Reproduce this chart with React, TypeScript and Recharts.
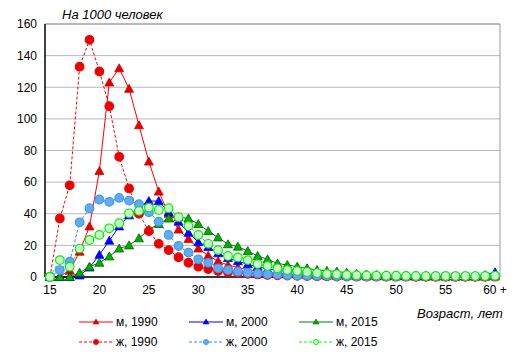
import React from 'react';
import { LineChart, Line, XAxis, YAxis, CartesianGrid, ReferenceLine } from 'recharts';

const ages = [15, 16, 17, 18, 19, 20, 21, 22, 23, 24, 25, 26, 27, 28, 29, 30, 31, 32, 33, 34, 35, 36, 37, 38, 39, 40, 41, 42, 43, 44, 45, 46, 47, 48, 49, 50, 51, 52, 53, 54, 55, 56, 57, 58, 59, 60];

const m1990 = [0, 0.5, 4, 16, 32, 67, 123, 132, 119, 96, 73, 54, 40, 30, 24, 18, 13.5, 10, 7.5, 6, 4.5, 3.5, 2.8, 2.2, 1.8, 1.5, 1.2, 1, 0.8, 0.7, 0.6, 0.5, 0.4, 0.4, 0.3, 0.3, 0.3, 0.2, 0.2, 0.2, 0.2, 0.2, 0.2, 0.2, 0.2, 0.3];
const m2000 = [0, 0, 0, 1, 6, 14, 23, 32, 39, 44, 48, 48, 41, 35, 28, 22, 19, 15, 12, 10, 8, 6.5, 5, 4.2, 3.5, 3, 2.5, 2, 1.8, 1.5, 1.2, 1, 1, 0.8, 0.8, 0.7, 0.7, 0.6, 0.6, 0.6, 0.5, 0.5, 0.5, 0.5, 1.2, 3];
const m2015 = [0, 0, 0, 2.7, 6.5, 9, 13, 18, 20, 24.5, 30, 33.5, 37, 38, 37, 33.5, 29, 25, 20.7, 19.2, 16.4, 13.3, 11.2, 8.6, 7.6, 6.5, 5.5, 4.4, 4, 3.5, 2.7, 2, 1.6, 1.3, 1.1, 1, 0.9, 0.8, 0.7, 0.6, 0.6, 0.5, 0.5, 0.5, 0.5, 0.8];
const f1990 = [0, 37, 58, 133, 150, 130, 108, 76, 56, 40, 29, 21, 17, 12.5, 9, 6.5, 5, 3.8, 3, 2.5, 2, 1.6, 1.3, 1.1, 0.9, 0.8, 0.6, 0.5, 0.4, 0.3, 0.3, 0.2, 0.2, 0.2, 0.2, 0.2, 0.2, 0.1, 0.1, 0.1, 0.1, 0.1, 0.1, 0.1, 0.1, 0.2];
const f2000 = [0, 4.4, 9.7, 34.6, 43.5, 49, 47.5, 50, 48.3, 46, 41, 35, 26.6, 19.6, 15.4, 11.2, 9, 5.5, 4.4, 3.4, 2.7, 2.2, 1.8, 1.5, 1.2, 1, 0.9, 0.8, 0.7, 0.6, 0.5, 0.5, 0.4, 0.4, 0.4, 0.4, 0.4, 0.4, 0.4, 0.4, 0.4, 0.4, 0.4, 0.4, 0.5, 0.6];
const f2015 = [0, 10.7, 6.5, 18, 23.4, 26.6, 30.8, 34, 40.3, 41.8, 43.9, 42.4, 43.5, 37.8, 32.3, 26.6, 21, 17, 13.3, 12.4, 10.7, 8.2, 7, 5.5, 4.4, 3.8, 3.2, 2.5, 1.9, 1.7, 1.3, 1.1, 1, 0.9, 0.8, 0.8, 0.7, 0.7, 0.6, 0.6, 0.6, 0.6, 0.6, 0.6, 0.6, 0.8];

const xTicks = [15, 20, 25, 30, 35, 40, 45, 50, 55, 60];
const yTicks = [0, 20, 40, 60, 80, 100, 120, 140, 160];

const data = ages.map((age, i) => ({
  age,
  m1990: m1990[i],
  m2000: m2000[i],
  m2015: m2015[i],
  f1990: f1990[i],
  f2000: f2000[i],
  f2015: f2015[i],
}));

const FONT = '"Liberation Sans", Arial, sans-serif';

const makeTriangle = (fill: string, stroke: string) => (props: any) => {
  const { cx, cy, index } = props;
  if (cx == null || cy == null) return <g key={index} />;
  return (
    <polygon
      key={index}
      points={`${cx},${cy - 4.5} ${cx + 4.5},${cy + 3.5} ${cx - 4.5},${cy + 3.5}`}
      fill={fill}
      stroke={stroke}
      strokeWidth={0.8}
    />
  );
};

const series = [
  { key: 'm1990', name: 'м, 1990', color: '#ff0000', fill: '#e00000', tri: true },
  { key: 'm2000', name: 'м, 2000', color: '#0000ff', fill: '#0000ff', tri: true },
  { key: 'm2015', name: 'м, 2015', color: '#008000', fill: '#00b000', tri: true, stroke: '#006000' },
  { key: 'f1990', name: 'ж, 1990', color: '#ff0000', fill: '#e60000', tri: false, stroke: '#ff0000' },
  { key: 'f2000', name: 'ж, 2000', color: '#3388ff', fill: '#66aaee', tri: false, stroke: '#3399ff' },
  { key: 'f2015', name: 'ж, 2015', color: '#00ff00', fill: '#ccffcc', tri: false, stroke: '#00ee00' },
];

const LegendBox = () => {
  const cols = [79, 189, 299];
  const rows = [322, 342];
  return (
    <svg width={516} height={360} style={{ position: 'absolute', left: 0, top: 0, pointerEvents: 'none' }}>
      {series.map((s, i) => {
        const x = cols[i % 3];
        const y = rows[Math.floor(i / 3)];
        const mid = x + 17;
        return (
          <g key={s.key}>
            <line x1={x} x2={x + 34} y1={y} y2={y} stroke={s.color} strokeWidth={1} strokeDasharray={s.tri ? undefined : '3 2'} />
            {s.tri ? (
              <polygon points={`${mid},${y - 3} ${mid + 3},${y + 2} ${mid - 3},${y + 2}`} fill={s.fill} stroke={s.stroke || s.fill} strokeWidth={0.6} />
            ) : (
              <circle cx={mid} cy={y} r={2.5} fill={s.fill} stroke={s.stroke} strokeWidth={1} />
            )}
            <text x={x + 37} y={y + 4} fontSize={12} fontFamily={FONT} fill="#000">{s.name}</text>
          </g>
        );
      })}
      <text x={62} y={19} fontSize={13} fontStyle="italic" fontFamily={FONT} fill="#000">На 1000 человек</text>
      <text x={417} y={318} fontSize={13} fontStyle="italic" fontFamily={FONT} fill="#000">Возраст, лет</text>
    </svg>
  );
};

export default function App() {
  return (
    <div style={{ position: 'absolute', left: 0, top: 0, width: 516, height: 360, background: '#fff' }}>
      <LineChart width={516} height={360} data={data} margin={{ top: 24, right: 16, left: 0, bottom: 53 }}>
        <CartesianGrid vertical={false} stroke="#b8b8b8" />
        <XAxis
          dataKey="age"
          type="number"
          domain={[14.5, 60.5]}
          ticks={xTicks}
          tickFormatter={(v: number) => (v === 60 ? '60 +' : String(v))}
          tickLine={false}
          axisLine={{ stroke: '#000', strokeWidth: 1.5 }}
          tick={{ fill: '#000', fontSize: 12, fontFamily: FONT }}
          height={30}
          interval={0}
        />
        <YAxis
          domain={[0, 160]}
          ticks={yTicks}
          tickLine={false}
          axisLine={{ stroke: '#000', strokeWidth: 1.5 }}
          tick={{ fill: '#000', fontSize: 12, fontFamily: FONT }}
          width={45}
          interval={0}
        />
        <ReferenceLine x={60.5} stroke="#999" />
        <ReferenceLine y={160} stroke="#999" />
        {series.map((s) =>
          s.tri ? (
            <Line
              key={s.key}
              dataKey={s.key}
              stroke={s.color}
              strokeWidth={1}
              dot={makeTriangle(s.fill, s.stroke || s.fill)}
              isAnimationActive={false}
            />
          ) : (
            <Line
              key={s.key}
              dataKey={s.key}
              stroke={s.color}
              strokeWidth={1}
              strokeDasharray="3 2"
              dot={{ r: 4.3, fill: s.fill, stroke: s.stroke, strokeWidth: 1.2, strokeDasharray: '' }}
              isAnimationActive={false}
            />
          )
        )}
      </LineChart>
      <LegendBox />
    </div>
  );
}
